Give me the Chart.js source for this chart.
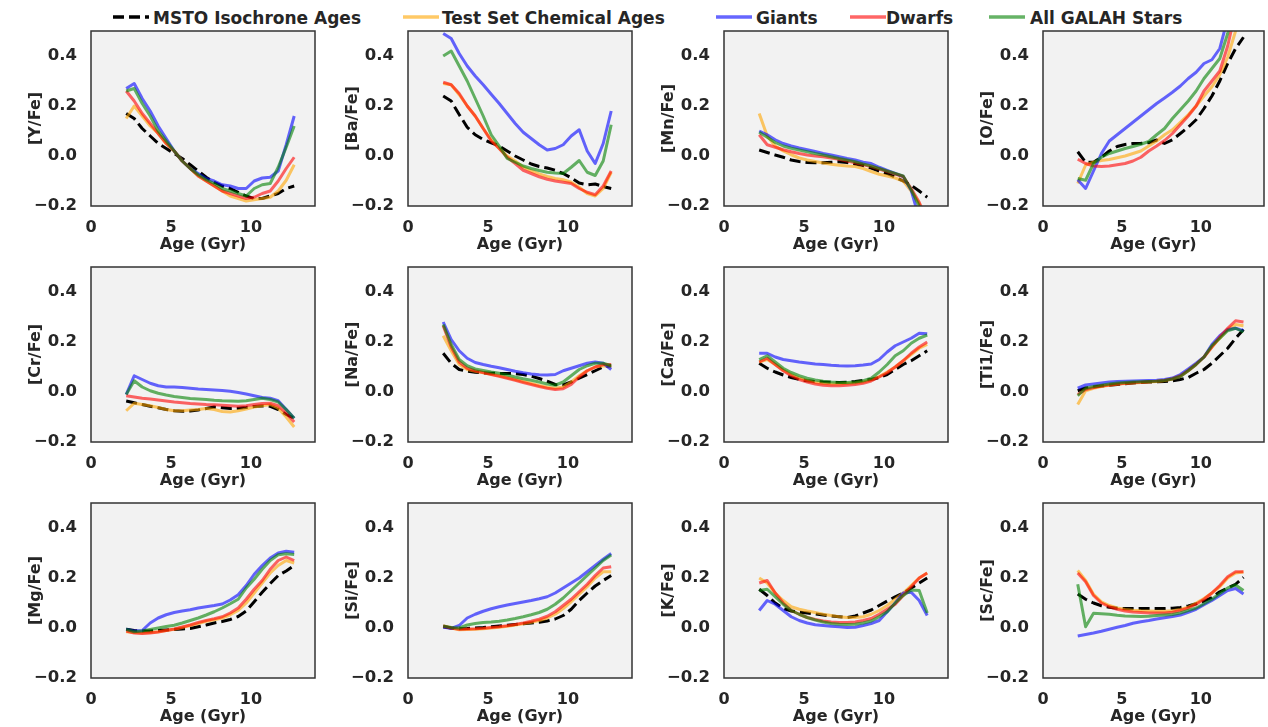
<!DOCTYPE html>
<html><head><meta charset="utf-8">
<script src="https://cdn.jsdelivr.net/npm/chart.js@4.4.0/dist/chart.umd.min.js"></script>
<style>
html,body{margin:0;padding:0;background:#fff;}
#wrap{position:relative;width:1268px;height:727px;overflow:hidden;font-family:"DejaVu Sans",sans-serif;}
#wrap canvas{position:absolute;}
.lgt{position:absolute;top:8px;height:20px;line-height:20px;font-weight:bold;font-size:17px;color:#262626;white-space:nowrap;}
.lgl{position:absolute;top:12px;}
</style></head><body><div id="wrap"></div>
<script>
// ---------- data ----------
const ages = [2.2,2.7,3.2,3.7,4.2,4.7,5.2,5.7,6.2,6.7,7.2,7.7,8.2,8.7,9.2,9.7,10.2,10.7,11.2,11.7,12.2,12.7];
const xTicks = [0,5,10];
const yTicks = [-0.2,0,0.2,0.4];
const seriesNames = ['MSTO Isochrone Ages','Test Set Chemical Ages','Giants','Dwarfs','All GALAH Stars'];
const panelLabels = ['[Y/Fe]','[Ba/Fe]','[Mn/Fe]','[O/Fe]','[Cr/Fe]','[Na/Fe]','[Ca/Fe]','[Ti1/Fe]','[Mg/Fe]','[Si/Fe]','[K/Fe]','[Sc/Fe]'];

const Y_msto   = [0.17,0.15,0.11,0.08,0.05,0.03,0.01,-0.01,-0.035,-0.06,-0.085,-0.105,-0.12,-0.13,-0.145,-0.16,-0.17,-0.17,-0.16,-0.15,-0.13,-0.12];
const Y_test   = [0.15,0.20,0.16,0.12,0.09,0.05,0.02,-0.02,-0.05,-0.08,-0.10,-0.12,-0.14,-0.16,-0.17,-0.18,-0.175,-0.17,-0.165,-0.14,-0.097,-0.035];
const Y_giants = [0.27,0.29,0.23,0.18,0.12,0.07,0.02,-0.02,-0.05,-0.07,-0.09,-0.10,-0.115,-0.12,-0.13,-0.13,-0.10,-0.088,-0.085,-0.06,0.045,0.16];
const Y_dwarfs = [0.26,0.22,0.17,0.13,0.09,0.05,0.02,-0.02,-0.05,-0.08,-0.10,-0.12,-0.14,-0.15,-0.16,-0.17,-0.165,-0.15,-0.14,-0.10,-0.05,-0.005];
const Y_all    = [0.26,0.27,0.21,0.16,0.10,0.06,0.02,-0.02,-0.05,-0.075,-0.095,-0.11,-0.13,-0.14,-0.15,-0.16,-0.13,-0.115,-0.11,-0.045,0.035,0.12];

const Ba_msto   = [0.24,0.22,0.166,0.115,0.085,0.066,0.053,0.04,0.02,0.0,-0.016,-0.032,-0.042,-0.048,-0.057,-0.07,-0.087,-0.108,-0.115,-0.112,-0.122,-0.13];
const Ba_test   = [0.29,0.285,0.245,0.2,0.16,0.11,0.065,0.03,0.0,-0.02,-0.045,-0.06,-0.072,-0.082,-0.09,-0.095,-0.105,-0.125,-0.15,-0.16,-0.13,-0.065];
const Ba_giants = [0.49,0.47,0.41,0.36,0.32,0.285,0.247,0.21,0.17,0.13,0.095,0.07,0.045,0.024,0.03,0.045,0.08,0.105,0.02,-0.03,0.05,0.18];
const Ba_dwarfs = [0.295,0.285,0.25,0.2,0.16,0.11,0.06,0.03,-0.005,-0.03,-0.057,-0.07,-0.083,-0.093,-0.1,-0.105,-0.11,-0.13,-0.145,-0.155,-0.12,-0.06];
const Ba_all    = [0.40,0.42,0.36,0.30,0.23,0.16,0.085,0.04,-0.01,-0.025,-0.04,-0.05,-0.058,-0.065,-0.068,-0.07,-0.045,-0.018,-0.065,-0.078,-0.02,0.125];

const Mn_msto   = [0.024,0.014,0.004,-0.005,-0.016,-0.022,-0.026,-0.027,-0.027,-0.025,-0.023,-0.026,-0.032,-0.038,-0.048,-0.06,-0.07,-0.085,-0.1,-0.117,-0.14,-0.165];
const Mn_test   = [0.17,0.08,0.04,0.02,0.005,-0.008,-0.016,-0.022,-0.028,-0.033,-0.037,-0.04,-0.042,-0.05,-0.062,-0.073,-0.08,-0.088,-0.1,-0.14,-0.19,-0.27];
const Mn_giants = [0.10,0.085,0.065,0.05,0.04,0.032,0.025,0.018,0.01,0.004,-0.003,-0.01,-0.016,-0.025,-0.03,-0.045,-0.058,-0.07,-0.082,-0.137,-0.25,-0.35];
const Mn_dwarfs = [0.085,0.045,0.035,0.025,0.017,0.01,0.004,0.0,-0.003,-0.008,-0.013,-0.02,-0.027,-0.035,-0.042,-0.052,-0.062,-0.072,-0.082,-0.13,-0.185,-0.26];
const Mn_all    = [0.095,0.075,0.054,0.04,0.031,0.024,0.017,0.01,0.004,-0.003,-0.01,-0.016,-0.023,-0.032,-0.04,-0.05,-0.06,-0.07,-0.08,-0.135,-0.2,-0.3];

const O_msto   = [0.017,-0.025,-0.025,-0.005,0.02,0.038,0.046,0.05,0.051,0.053,0.064,0.05,0.065,0.09,0.115,0.145,0.19,0.24,0.3,0.37,0.43,0.475];
const O_test   = [-0.11,-0.036,-0.025,-0.018,-0.014,-0.007,0.0,0.01,0.02,0.04,0.06,0.085,0.105,0.135,0.165,0.2,0.24,0.277,0.325,0.395,0.5,0.62];
const O_giants = [-0.095,-0.13,-0.06,0.01,0.06,0.085,0.11,0.135,0.16,0.185,0.21,0.232,0.255,0.28,0.31,0.335,0.37,0.385,0.43,0.55,0.7,0.85];
const O_dwarfs = [-0.013,-0.03,-0.04,-0.042,-0.04,-0.035,-0.03,-0.02,-0.005,0.02,0.04,0.062,0.09,0.125,0.16,0.2,0.26,0.3,0.34,0.44,0.58,0.7];
const O_all    = [-0.09,-0.097,-0.03,-0.005,0.01,0.02,0.03,0.038,0.047,0.058,0.085,0.11,0.15,0.185,0.22,0.26,0.31,0.35,0.39,0.49,0.62,0.75];

const Cr_msto   = [-0.036,-0.043,-0.05,-0.057,-0.063,-0.07,-0.075,-0.077,-0.076,-0.072,-0.066,-0.06,-0.063,-0.066,-0.065,-0.062,-0.058,-0.056,-0.057,-0.07,-0.09,-0.105];
const Cr_test   = [-0.075,-0.045,-0.05,-0.055,-0.062,-0.07,-0.075,-0.075,-0.072,-0.07,-0.066,-0.07,-0.078,-0.08,-0.075,-0.068,-0.06,-0.055,-0.05,-0.065,-0.1,-0.14];
const Cr_giants = [-0.01,0.065,0.05,0.035,0.025,0.02,0.02,0.018,0.015,0.012,0.01,0.008,0.006,0.003,-0.002,-0.008,-0.015,-0.022,-0.025,-0.035,-0.07,-0.105];
const Cr_dwarfs = [-0.015,-0.02,-0.025,-0.028,-0.032,-0.036,-0.04,-0.043,-0.046,-0.048,-0.05,-0.051,-0.053,-0.055,-0.057,-0.055,-0.05,-0.046,-0.045,-0.055,-0.085,-0.12];
const Cr_all    = [-0.01,0.045,0.02,0.005,-0.005,-0.012,-0.018,-0.022,-0.026,-0.028,-0.03,-0.033,-0.035,-0.036,-0.037,-0.035,-0.03,-0.025,-0.03,-0.04,-0.07,-0.105];

const Na_msto   = [0.155,0.115,0.09,0.083,0.079,0.076,0.075,0.074,0.074,0.073,0.07,0.063,0.054,0.043,0.03,0.028,0.04,0.055,0.07,0.085,0.1,0.105];
const Na_test   = [0.225,0.165,0.11,0.09,0.083,0.077,0.071,0.065,0.058,0.05,0.042,0.034,0.026,0.019,0.015,0.02,0.04,0.065,0.085,0.1,0.105,0.1];
const Na_giants = [0.28,0.21,0.165,0.135,0.118,0.11,0.103,0.097,0.09,0.083,0.077,0.072,0.069,0.068,0.07,0.085,0.095,0.105,0.115,0.12,0.115,0.09];
const Na_dwarfs = [0.265,0.18,0.12,0.095,0.085,0.078,0.07,0.063,0.055,0.047,0.038,0.03,0.022,0.015,0.01,0.013,0.03,0.06,0.085,0.1,0.11,0.11];
const Na_all    = [0.27,0.19,0.13,0.105,0.092,0.086,0.08,0.075,0.068,0.06,0.053,0.047,0.04,0.032,0.027,0.04,0.065,0.09,0.105,0.115,0.115,0.105];

const Ca_msto   = [0.115,0.095,0.08,0.068,0.058,0.05,0.045,0.042,0.04,0.039,0.038,0.039,0.042,0.046,0.05,0.058,0.07,0.09,0.11,0.125,0.145,0.165];
const Ca_test   = [0.12,0.13,0.11,0.088,0.07,0.056,0.046,0.038,0.034,0.032,0.032,0.034,0.036,0.04,0.048,0.062,0.08,0.1,0.125,0.15,0.175,0.19];
const Ca_giants = [0.155,0.155,0.14,0.13,0.125,0.12,0.116,0.112,0.11,0.107,0.105,0.104,0.105,0.108,0.112,0.13,0.16,0.185,0.2,0.215,0.235,0.233];
const Ca_dwarfs = [0.12,0.135,0.11,0.085,0.065,0.05,0.04,0.032,0.027,0.025,0.025,0.027,0.03,0.035,0.044,0.06,0.077,0.1,0.125,0.155,0.18,0.2];
const Ca_all    = [0.13,0.145,0.12,0.095,0.078,0.065,0.055,0.048,0.043,0.04,0.038,0.038,0.04,0.045,0.055,0.08,0.11,0.145,0.165,0.195,0.215,0.228];

const Ti_msto   = [0.005,0.016,0.02,0.024,0.027,0.03,0.033,0.036,0.038,0.04,0.041,0.042,0.045,0.05,0.058,0.075,0.09,0.115,0.145,0.175,0.215,0.25];
const Ti_test   = [-0.05,0.005,0.015,0.022,0.027,0.031,0.034,0.036,0.038,0.04,0.042,0.046,0.054,0.066,0.087,0.112,0.14,0.18,0.215,0.25,0.27,0.265];
const Ti_giants = [0.015,0.028,0.032,0.036,0.04,0.042,0.043,0.044,0.045,0.046,0.047,0.05,0.056,0.07,0.092,0.115,0.14,0.19,0.225,0.25,0.255,0.245];
const Ti_dwarfs = [-0.01,0.01,0.018,0.024,0.028,0.032,0.035,0.037,0.039,0.041,0.043,0.046,0.052,0.063,0.085,0.11,0.14,0.18,0.22,0.255,0.285,0.28];
const Ti_all    = [-0.015,0.015,0.022,0.027,0.032,0.036,0.038,0.04,0.041,0.042,0.043,0.046,0.052,0.062,0.085,0.11,0.14,0.185,0.215,0.245,0.255,0.24];

const Mg_msto   = [-0.005,-0.01,-0.012,-0.012,-0.01,-0.008,-0.006,-0.004,-0.002,0.005,0.012,0.02,0.026,0.034,0.046,0.068,0.105,0.143,0.178,0.21,0.228,0.25];
const Mg_test   = [-0.015,-0.018,-0.02,-0.018,-0.015,-0.01,-0.005,0.002,0.01,0.018,0.027,0.033,0.04,0.053,0.07,0.1,0.14,0.18,0.22,0.25,0.27,0.26];
const Mg_giants = [-0.005,-0.012,-0.01,0.02,0.04,0.053,0.062,0.068,0.073,0.08,0.085,0.09,0.096,0.112,0.133,0.17,0.215,0.25,0.28,0.3,0.307,0.303];
const Mg_dwarfs = [-0.012,-0.02,-0.022,-0.02,-0.016,-0.01,-0.004,0.004,0.012,0.022,0.03,0.037,0.045,0.06,0.08,0.115,0.155,0.19,0.235,0.27,0.284,0.27];
const Mg_all    = [-0.005,-0.015,-0.012,-0.006,0.0,0.006,0.011,0.02,0.03,0.04,0.052,0.065,0.08,0.097,0.115,0.16,0.195,0.235,0.27,0.293,0.297,0.294];

const Si_msto   = [0.005,0.0,-0.003,-0.002,0.0,0.002,0.005,0.008,0.011,0.014,0.017,0.02,0.023,0.028,0.036,0.05,0.075,0.11,0.14,0.168,0.19,0.21];
const Si_test   = [0.008,0.0,-0.007,-0.006,-0.005,-0.003,0.0,0.003,0.007,0.012,0.017,0.023,0.03,0.04,0.055,0.078,0.105,0.135,0.165,0.2,0.225,0.225];
const Si_giants = [0.004,-0.002,0.01,0.04,0.055,0.067,0.077,0.085,0.092,0.098,0.104,0.11,0.117,0.125,0.14,0.16,0.18,0.2,0.225,0.25,0.275,0.298];
const Si_dwarfs = [0.008,0.0,-0.005,-0.004,-0.003,-0.001,0.002,0.005,0.009,0.014,0.02,0.027,0.035,0.047,0.065,0.09,0.115,0.145,0.175,0.21,0.24,0.245];
const Si_all    = [0.008,0.002,0.0,0.012,0.018,0.022,0.024,0.027,0.032,0.038,0.045,0.053,0.062,0.075,0.095,0.12,0.15,0.18,0.21,0.24,0.27,0.292];

const K_msto   = [0.155,0.13,0.1,0.078,0.068,0.063,0.06,0.056,0.052,0.048,0.045,0.042,0.048,0.06,0.072,0.09,0.108,0.125,0.14,0.16,0.18,0.2];
const K_test   = [0.2,0.18,0.14,0.11,0.085,0.075,0.068,0.062,0.055,0.05,0.045,0.042,0.042,0.045,0.055,0.07,0.09,0.115,0.14,0.17,0.2,0.22];
const K_giants = [0.07,0.11,0.095,0.07,0.045,0.03,0.02,0.013,0.01,0.007,0.005,0.002,0.003,0.01,0.018,0.03,0.065,0.1,0.14,0.143,0.11,0.05];
const K_dwarfs = [0.18,0.19,0.14,0.1,0.07,0.055,0.042,0.034,0.028,0.024,0.022,0.022,0.024,0.03,0.038,0.055,0.075,0.095,0.13,0.165,0.2,0.22];
const K_all    = [0.15,0.155,0.125,0.095,0.07,0.055,0.042,0.032,0.024,0.018,0.015,0.014,0.015,0.02,0.028,0.045,0.065,0.1,0.13,0.152,0.15,0.06];

const Sc_msto   = [0.136,0.115,0.1,0.089,0.083,0.079,0.078,0.078,0.078,0.078,0.078,0.078,0.079,0.082,0.088,0.097,0.108,0.122,0.145,0.16,0.175,0.203];
const Sc_test   = [0.23,0.19,0.135,0.105,0.09,0.08,0.074,0.071,0.069,0.068,0.067,0.067,0.069,0.074,0.083,0.1,0.118,0.14,0.165,0.2,0.22,0.224];
const Sc_giants = [-0.032,-0.026,-0.02,-0.013,-0.005,0.003,0.01,0.019,0.025,0.03,0.036,0.041,0.046,0.052,0.063,0.075,0.093,0.11,0.13,0.15,0.158,0.136];
const Sc_dwarfs = [0.22,0.185,0.13,0.1,0.085,0.075,0.068,0.064,0.062,0.06,0.06,0.06,0.063,0.07,0.08,0.095,0.115,0.14,0.17,0.205,0.225,0.225];
const Sc_all    = [0.175,0.005,0.059,0.057,0.055,0.051,0.048,0.047,0.046,0.047,0.05,0.052,0.054,0.06,0.07,0.08,0.097,0.115,0.138,0.16,0.172,0.15];

const panelSeries = [
  [Y_msto, Y_test, Y_giants, Y_dwarfs, Y_all],
  [Ba_msto, Ba_test, Ba_giants, Ba_dwarfs, Ba_all],
  [Mn_msto, Mn_test, Mn_giants, Mn_dwarfs, Mn_all],
  [O_msto, O_test, O_giants, O_dwarfs, O_all],
  [Cr_msto, Cr_test, Cr_giants, Cr_dwarfs, Cr_all],
  [Na_msto, Na_test, Na_giants, Na_dwarfs, Na_all],
  [Ca_msto, Ca_test, Ca_giants, Ca_dwarfs, Ca_all],
  [Ti_msto, Ti_test, Ti_giants, Ti_dwarfs, Ti_all],
  [Mg_msto, Mg_test, Mg_giants, Mg_dwarfs, Mg_all],
  [Si_msto, Si_test, Si_giants, Si_dwarfs, Si_all],
  [K_msto, K_test, K_giants, K_dwarfs, K_all],
  [Sc_msto, Sc_test, Sc_giants, Sc_dwarfs, Sc_all]
];

// ---------- styles & layout ----------
const seriesColors = ['#000000','rgba(255,165,0,0.6)','rgba(0,0,255,0.6)','rgba(255,0,0,0.6)','rgba(0,128,0,0.6)'];
const seriesDash = [[11,5],[],[],[],[]];
const colLeft = [91,408,724,1043];
const colWidth = [224,224,224,221];
const rowTop = [31,267,503];
const plotH = 175;
const yAxisW = 88, xAxisH = 48, padTop = 2, padRight = 3;
const legendLineX = [112,402,715,849,988];
const legendTextX = [153,442,756,886,1030];
const TXT = '#262626';
const FAM = '"DejaVu Sans", sans-serif';

const wrap = document.getElementById('wrap');

// legend
seriesNames.forEach((name, k) => {
  const svgNS = 'http://www.w3.org/2000/svg';
  const svg = document.createElementNS(svgNS, 'svg');
  svg.setAttribute('width', '38'); svg.setAttribute('height', '10');
  svg.setAttribute('class', 'lgl');
  svg.style.left = legendLineX[k] + 'px';
  const ln = document.createElementNS(svgNS, 'line');
  ln.setAttribute('x1', '1'); ln.setAttribute('x2', '37');
  ln.setAttribute('y1', '5'); ln.setAttribute('y2', '5');
  ln.setAttribute('stroke', seriesColors[k]);
  ln.setAttribute('stroke-width', '3.5');
  if (seriesDash[k].length) ln.setAttribute('stroke-dasharray', seriesDash[k].join(' '));
  svg.appendChild(ln);
  wrap.appendChild(svg);
  const t = document.createElement('div');
  t.className = 'lgt';
  t.style.left = legendTextX[k] + 'px';
  t.textContent = name;
  wrap.appendChild(t);
});

const framePlugin = {
  id: 'frame',
  beforeDraw(chart) {
    const {ctx, chartArea: a} = chart;
    ctx.save(); ctx.fillStyle = '#f2f2f2';
    ctx.fillRect(a.left, a.top, a.right - a.left, a.bottom - a.top);
    ctx.restore();
  },
  afterDraw(chart) {
    const {ctx, chartArea: a} = chart;
    ctx.save(); ctx.strokeStyle = '#333333'; ctx.lineWidth = 1.5;
    ctx.strokeRect(a.left, a.top, a.right - a.left, a.bottom - a.top);
    ctx.restore();
  }
};

function fmtY(v) {
  const s = Math.abs(v).toFixed(1);
  return v < -1e-9 ? '\u2212' + s : s;
}

panelLabels.forEach((label, i) => {
  const col = i % 4, row = Math.floor(i / 4);
  const W = yAxisW + colWidth[col] + padRight;
  const H = padTop + plotH + xAxisH;
  const cv = document.createElement('canvas');
  cv.width = W; cv.height = H;
  cv.style.width = W + 'px'; cv.style.height = H + 'px';
  cv.style.left = (colLeft[col] - yAxisW) + 'px';
  cv.style.top = (rowTop[row] - padTop) + 'px';
  wrap.appendChild(cv);

  const datasets = panelSeries[i].map((vals, k) => ({
    label: seriesNames[k],
    data: vals.map((v, j) => ({x: ages[j], y: v})),
    borderColor: seriesColors[k],
    backgroundColor: seriesColors[k],
    borderWidth: 3,
    borderDash: seriesDash[k],
    borderCapStyle: 'butt',
    borderJoinStyle: 'round',
    pointRadius: 0,
    tension: 0,
    fill: false,
    order: seriesNames.length - k
  }));

  new Chart(cv, {
    type: 'line',
    data: {datasets},
    plugins: [framePlugin],
    options: {
      responsive: false,
      animation: false,
      devicePixelRatio: 1,
      layout: {padding: {top: padTop, right: padRight, bottom: 0, left: 0}},
      plugins: {legend: {display: false}, tooltip: {enabled: false}},
      scales: {
        x: {
          type: 'linear', min: 0, max: 14,
          afterBuildTicks: s => { s.ticks = xTicks.map(v => ({value: v})); },
          afterFit: s => { s.height = xAxisH; s.paddingLeft = 0; s.paddingRight = 0; },
          grid: {display: false, drawTicks: false},
          border: {display: false},
          ticks: {padding: 12, autoSkip: false, maxRotation: 0, color: TXT,
                  font: {family: FAM, size: 16, weight: 'bold'},
                  callback: v => String(v)},
          title: {display: true, text: 'Age (Gyr)', color: TXT,
                  font: {family: FAM, size: 16, weight: 'bold'},
                  padding: {top: 0, bottom: 0}}
        },
        y: {
          type: 'linear', min: -0.2, max: 0.5,
          afterBuildTicks: s => { s.ticks = yTicks.map(v => ({value: v})); },
          afterFit: s => { s.width = yAxisW; s.paddingTop = 0; s.paddingBottom = 0; },
          grid: {display: false, drawTicks: false},
          border: {display: false},
          ticks: {padding: 14, color: TXT,
                  font: {family: FAM, size: 16.5, weight: 'bold'},
                  callback: v => fmtY(v)},
          title: {display: true, text: label, color: TXT,
                  font: {family: FAM, size: 16, weight: 'bold'},
                  padding: {top: 23, bottom: 0}}
        }
      }
    }
  });
});
</script>
</body></html>
